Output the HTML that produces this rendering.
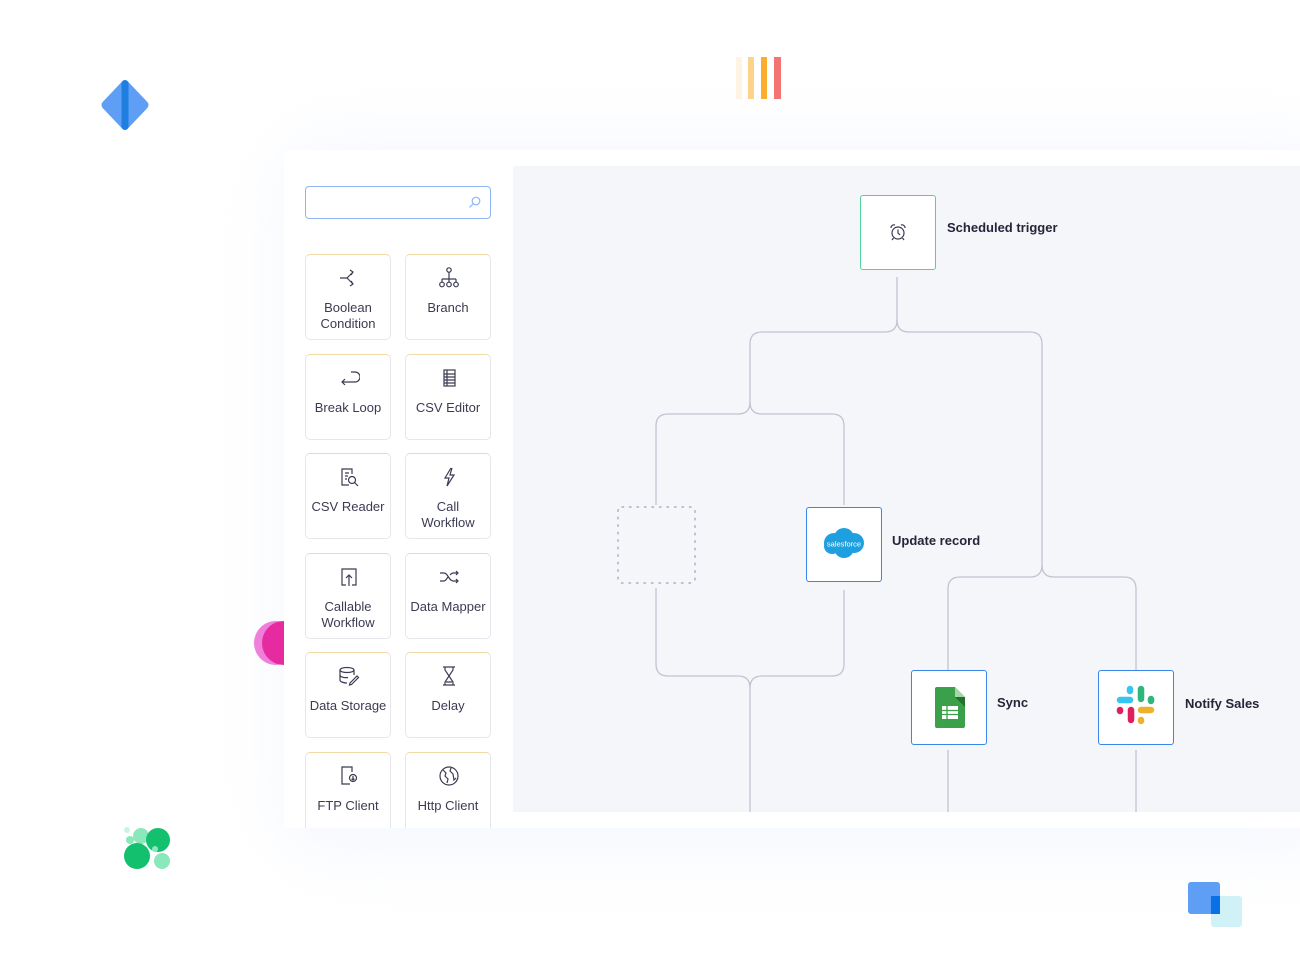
<!DOCTYPE html>
<html><head><meta charset="utf-8"><style>
*{margin:0;padding:0;box-sizing:border-box}
body{width:1300px;height:975px;background:#fff;position:relative;overflow:hidden;font-family:"Liberation Sans",sans-serif;color:#2e2e45}
.abs{position:absolute}
.glow{position:absolute;left:275px;top:135px;width:1080px;height:725px;border-radius:60px;background:#eef3fd;filter:blur(30px);opacity:.55}
.panel{position:absolute;left:284px;top:150px;width:1016px;height:678px;background:#fff;overflow:hidden}
.canvas{position:absolute;left:513px;top:166px;width:787px;height:646px;background:#f5f6f9}
.search{position:absolute;left:305px;top:186px;width:186px;height:33px;border:1px solid #8fb6f2;border-radius:4px;background:#fff}
.card{position:absolute;width:86px;height:86px;border:1px solid #e6e6ec;border-top-color:#f3d9a6;border-radius:5px;background:#fff;text-align:center;font-size:13px;line-height:15.5px;color:#3b3b52}
.card svg{position:absolute;left:32px;top:12px}
.card .t{position:absolute;left:0;right:0;top:45px}
.node{position:absolute;width:76px;height:75px;background:#fff;border:1.5px solid #3a86e8;border-radius:3px}
.lbl{position:absolute;font-size:13px;font-weight:bold;color:#25253a}
</style></head><body>
<div class="glow"></div>
<svg class="abs" style="left:100px;top:78px" width="52" height="54"><path d="M25 7 L44 27 L25 47 L6 27Z" fill="#5e9ff5" stroke="#5e9ff5" stroke-width="9" stroke-linejoin="round"/><rect x="21.5" y="2" width="7" height="50" rx="3.5" fill="#1f7fe0"/></svg>
<div class="abs" style="left:736px;top:57px;width:6px;height:42px;background:#fff3e3"></div>
<div class="abs" style="left:748px;top:57px;width:6px;height:42px;background:#fdd28a"></div>
<div class="abs" style="left:761px;top:57px;width:6px;height:42px;background:#fbae2d"></div>
<div class="abs" style="left:774px;top:57px;width:7px;height:42px;background:#f27573"></div>
<div class="abs" style="left:254px;top:621px;width:44px;height:44px;border-radius:50%;background:#f07fdc"></div>
<div class="abs" style="left:262px;top:621px;width:44px;height:44px;border-radius:50%;background:#e62a9f"></div>
<svg class="abs" style="left:120px;top:822px" width="56" height="52"><circle cx="7" cy="8" r="3" fill="#c9f5dd"/><circle cx="10" cy="18" r="4" fill="#8ae8bb"/><circle cx="21" cy="14" r="8" fill="#8ae8bb"/><circle cx="38" cy="18" r="12" fill="#13c06d"/><circle cx="17" cy="34" r="13" fill="#13c06d"/><circle cx="42" cy="39" r="8" fill="#8ae8bb"/><circle cx="35" cy="27" r="3" fill="#8ae8bb"/></svg>
<div class="panel"></div>
<div class="abs" style="left:1188px;top:882px;width:32px;height:32px;border-radius:3px;background:#5e9ff5"></div>
<div class="abs" style="left:1211px;top:896px;width:31px;height:31px;border-radius:3px;background:rgba(170,230,236,.55)"></div>
<div class="abs" style="left:1211px;top:896px;width:9px;height:18px;background:#0b6fe8"></div>
<div class="canvas"></div>
<div class="search"><svg style="position:absolute;right:9px;top:9px" width="13" height="13"><circle cx="8" cy="5" r="3.8" fill="none" stroke="#8fb6f2" stroke-width="1.2"/><path d="M5.3 7.7 L1.5 11.5" stroke="#8fb6f2" stroke-width="1.2"/></svg></div>

<div style="position:absolute;left:0;top:0;width:1300px;height:828px;overflow:hidden">
<div class="card" style="left:305px;top:254px"><svg width="22" height="22" fill="none" stroke="#3b3b52" stroke-width="1.2"><path d="M2 11 H9 L15 5 M9 11 L15 17 M12 3 L15 5 L13 8 M12 19 L15 17 L13 14"/></svg><div class="t">Boolean<br>Condition</div></div>
<div class="card" style="left:405px;top:254px"><svg width="22" height="22" fill="none" stroke="#3b3b52" stroke-width="1.2"><circle cx="11" cy="3" r="2.2"/><path d="M11 5 V12 M4 12 H18 M4 12 V15 M11 12 V15 M18 12 V15"/><circle cx="4" cy="17.5" r="2.3"/><circle cx="11" cy="17.5" r="2.3"/><circle cx="18" cy="17.5" r="2.3"/></svg><div class="t">Branch</div></div>
<div class="card" style="left:305px;top:354px"><svg width="22" height="22" fill="none" stroke="#3b3b52" stroke-width="1.2"><path d="M13 5 H17 A5 5 0 0 1 17 15 H4 M7 12 L4 15 L7 18"/></svg><div class="t">Break Loop</div></div>
<div class="card" style="left:405px;top:354px"><svg width="22" height="22" fill="none" stroke="#3b3b52" stroke-width="1.2"><rect x="6" y="3" width="11" height="16"/><path d="M6 7H17M6 10H17M6 13H17M6 16H17M9 3V19"/></svg><div class="t">CSV Editor</div></div>
<div class="card" style="left:305px;top:453px"><svg width="22" height="22" fill="none" stroke="#3b3b52" stroke-width="1.2"><path d="M14 8 V3 H4 V19 H11 M7 7H11 M7 10H10 M7 13H9"/><circle cx="14" cy="14" r="3.5"/><path d="M16.5 16.5 L20 20"/></svg><div class="t">CSV Reader</div></div>
<div class="card" style="left:405px;top:453px"><svg width="22" height="22" fill="none" stroke="#3b3b52" stroke-width="1.2"><path d="M13 2 L7 12 H11 L9 20 L16 9 H12 L14 2"/></svg><div class="t">Call<br>Workflow</div></div>
<div class="card" style="left:305px;top:553px"><svg width="22" height="22" fill="none" stroke="#3b3b52" stroke-width="1.2"><path d="M8 19 H4 V3 H18 V19 H14 M11 20 V9 M8 12 L11 9 L14 12"/></svg><div class="t">Callable<br>Workflow</div></div>
<div class="card" style="left:405px;top:553px"><svg width="22" height="22" fill="none" stroke="#3b3b52" stroke-width="1.2"><path d="M2 7 H6 C10 7 11 15 15 15 H20 M2 15 H6 C8 15 9 12 10 11 M12 9 C13 8 14 7 15 7 H20 M18 5 L20 7 L18 9 M18 13 L20 15 L18 17"/></svg><div class="t">Data Mapper</div></div>
<div class="card" style="left:305px;top:652px"><svg width="22" height="22" fill="none" stroke="#3b3b52" stroke-width="1.2"><ellipse cx="9" cy="5" rx="7" ry="2.5"/><path d="M2 5 V15 C2 17 6 18 9 18 M16 5 V10 M2 10 C2 12 6 13 10 12.5 M12 18 L19 11 L20.5 12.5 L13.5 19.5 L11.5 20Z"/></svg><div class="t">Data Storage</div></div>
<div class="card" style="left:405px;top:652px"><svg width="22" height="22" fill="none" stroke="#3b3b52" stroke-width="1.2"><path d="M5 2 H17 M5 20 H17 M7 2 V5 L11 11 L7 17 V20 M15 2 V5 L11 11 L15 17 V20 M8 17 H14"/></svg><div class="t">Delay</div></div>
<div class="card" style="left:305px;top:752px"><svg width="22" height="22" fill="none" stroke="#3b3b52" stroke-width="1.2"><path d="M14 7 V2 H4 V19 H12"/><circle cx="15" cy="13" r="3.5"/><path d="M15 11 V15 M13.5 13.8 L15 15 L16.5 13.8"/></svg><div class="t">FTP Client</div></div>
<div class="card" style="left:405px;top:752px"><svg width="22" height="22" fill="none" stroke="#3b3b52" stroke-width="1.2"><circle cx="11" cy="11" r="9"/><path d="M5 5 L8 8 L7 11 L10 14 L9 18 M13 3 L12 6 L15 9 L16 15 L18 13"/></svg><div class="t">Http Client</div></div>
</div>

<svg class="abs" style="left:0;top:0" width="1300" height="975" fill="none" stroke="#c3c3d2" stroke-width="1.3">
<path d="M897 277 V320 Q897 332 885 332 H762 Q750 332 750 344 V402 Q750 414 738 414 H668 Q656 414 656 426 V505"/>
<path d="M897 320 Q897 332 909 332 H1030 Q1042 332 1042 344 V565 Q1042 577 1030 577 H960 Q948 577 948 589 V670"/>
<path d="M1042 565 Q1042 577 1054 577 H1124 Q1136 577 1136 589 V670"/>
<path d="M750 402 Q750 414 762 414 H832 Q844 414 844 426 V505"/>
<path d="M656 588 V664 Q656 676 668 676 H738 Q750 676 750 688 V812"/>
<path d="M844 590 V664 Q844 676 832 676 H762 Q750 676 750 688"/>
<path d="M948 750 V812 M1136 750 V812"/>
<rect x="618" y="507" width="77" height="76" rx="4" stroke="#aab0c0" stroke-width="1.5" stroke-dasharray="1.5 6" stroke-linecap="round"/>
</svg>

<div class="node" style="left:860px;top:195px;border-color:#4fd39b"><svg style="position:absolute;left:28px;top:27px" width="18" height="18" fill="none" stroke="#3b3b52" stroke-width="1.2"><circle cx="9" cy="10" r="6"/><path d="M9 6.5 V10 L11 12 M2 5 A3 3 0 0 1 6 2 M16 5 A3 3 0 0 0 12 2 M4.5 15 L3 17 M13.5 15 L15 17"/></svg></div>
<div class="lbl" style="left:947px;top:220px">Scheduled trigger</div>

<div class="node" style="left:806px;top:507px"><svg style="position:absolute;left:13px;top:18px" width="48" height="36"><g fill="#1ea0e0"><circle cx="14" cy="17" r="10"/><circle cx="24" cy="12" r="10"/><circle cx="34" cy="17" r="10"/><circle cx="24" cy="22" r="10"/><circle cx="12" cy="20" r="8"/></g><text x="24" y="20.5" font-size="7.5" fill="#fff" text-anchor="middle" font-family="Liberation Sans">salesforce</text></svg></div>
<div class="lbl" style="left:892px;top:533px">Update record</div>

<div class="node" style="left:911px;top:670px"><svg style="position:absolute;left:22px;top:16px" width="32" height="42"><path d="M3 0 H21 L31 10 V39 A2 2 0 0 1 29 41 H3 A2 2 0 0 1 1 39 V2 A2 2 0 0 1 3 0Z" fill="#3aa14a"/><path d="M21 0 L31 10 H21Z" fill="#a5d6a7"/><path d="M21 10 L31 20 V10Z" fill="#24702f"/><rect x="8" y="19" width="16" height="13" fill="#fff"/><g stroke="#3aa14a" stroke-width="1.3"><path d="M8 23.5H24M8 27.5H24M13 19V32"/></g></svg></div>
<div class="lbl" style="left:997px;top:695px">Sync</div>

<div class="node" style="left:1098px;top:670px"><svg style="position:absolute;left:17px;top:14px" width="40" height="40"><g stroke-linecap="round" stroke-width="6.5"><path d="M4 15H14" stroke="#36c5f0"/><path d="M14 4V6" stroke="#36c5f0"/><path d="M25 4V14" stroke="#2eb67d"/><path d="M35 14V16" stroke="#2eb67d"/><path d="M25 25H35" stroke="#ecb22e"/><path d="M25 35V36" stroke="#ecb22e"/><path d="M15 25V35" stroke="#e01e5a"/><path d="M4 25V26" stroke="#e01e5a"/></g></svg></div>
<div class="lbl" style="left:1185px;top:696px">Notify Sales</div>
</body></html>
